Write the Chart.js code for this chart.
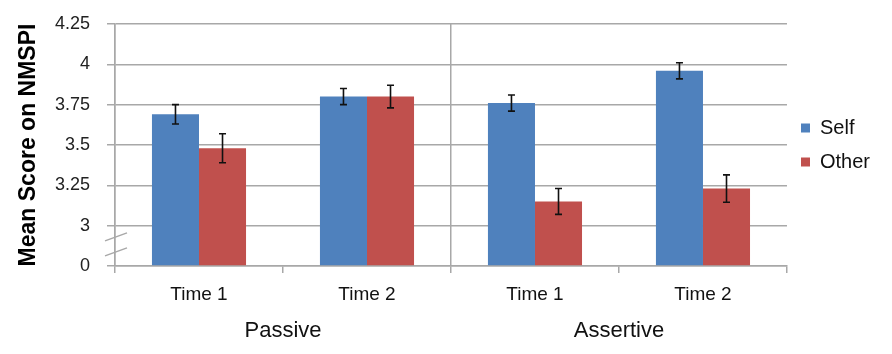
<!doctype html>
<html lang="en">
<head>
<meta charset="utf-8">
<title>NMSPI</title>
<script src="https://cdn.jsdelivr.net/npm/chart.js"></script>
<style>
body{margin:0;background:#fff;}
#wrap{width:892px;height:354px;}
</style>
</head>
<body>
<div id="wrap"><canvas id="myChart" width="892" height="354"></canvas></div>
<script>
// data
const timeLabels = ['Time 1', 'Time 2', 'Time 1', 'Time 2'];
const groupLabels = ['Passive', 'Assertive'];
const selfMeans = [3.69, 3.80, 3.76, 3.96];
const selfErr = [0.06, 0.05, 0.05, 0.05];
const otherMeans = [3.48, 3.80, 3.15, 3.23];
const otherErr = [0.09, 0.07, 0.08, 0.085];
// the "0" tick sits one step under 3 (axis is broken)
const axisBase = 2.75;

const grey = '#a8a8a8';
const font = 'Liberation Sans, Arial, sans-serif';

// error bars, from the y scale
const errorBars = {
	id: 'errorBars',
	afterDatasetsDraw(chart) {
		const ctx = chart.ctx;
		const y = chart.scales.y;
		ctx.save();
		ctx.strokeStyle = '#111';
		ctx.lineWidth = 1.6;
		chart.data.datasets.forEach(function(ds, di) {
			const meta = chart.getDatasetMeta(di);
			meta.data.forEach(function(bar, i) {
				const v = ds.data[i];
				const e = ds.errors[i];
				const top = y.getPixelForValue(v + e);
				const bot = y.getPixelForValue(v - e);
				ctx.beginPath();
				ctx.moveTo(bar.x, top); ctx.lineTo(bar.x, bot);
				ctx.moveTo(bar.x - 3.5, top); ctx.lineTo(bar.x + 3.5, top);
				ctx.moveTo(bar.x - 3.5, bot); ctx.lineTo(bar.x + 3.5, bot);
				ctx.stroke();
			});
		});
		ctx.restore();
	}
};

// the two slashes of the axis break
const axisBreak = {
	id: 'axisBreak',
	afterDraw(chart) {
		const ctx = chart.ctx;
		const y = chart.scales.y;
		const x0 = chart.chartArea.left;
		const mid = (y.getPixelForValue(3) + y.getPixelForValue(axisBase)) / 2;
		ctx.save();
		ctx.strokeStyle = grey;
		ctx.lineWidth = 1.5;
		[-9, 6].forEach(function(d) {
			ctx.beginPath();
			ctx.moveTo(x0 - 10, mid + d + 4);
			ctx.lineTo(x0 + 12, mid + d - 4);
			ctx.stroke();
		});
		ctx.restore();
	}
};

const data = {
	labels: timeLabels,
	datasets: [{
		label: 'Self',
		backgroundColor: '#4f81bd',
		data: selfMeans,
		errors: selfErr
	}, {
		label: 'Other',
		backgroundColor: '#c0504d',
		data: otherMeans,
		errors: otherErr
	}]
};

const config = {
	type: 'bar',
	data: data,
	plugins: [errorBars, axisBreak],
	options: {
		responsive: false,
		animation: false,
		base: axisBase,
		barPercentage: 1,
		categoryPercentage: 0.56,
		layout: {padding: {top: 24, right: 12, left: 0, bottom: 0}},
		plugins: {
			tooltip: {enabled: false},
			legend: {
				position: 'right',
				align: 'center',
				fullSize: false,
				labels: {
					boxWidth: 9, boxHeight: 9, padding: 14,
					color: '#111',
					font: {family: font, size: 20}
				}
			}
		},
		scales: {
			x: {
				offset: true,
				grid: {
					offset: true,
					lineWidth: 1.5,
					tickLength: 7,
					tickColor: grey,
					color: function(c) { return (c.index === 0 || c.index === 2) ? grey : 'rgba(0,0,0,0)'; }
				},
				border: {color: grey, width: 1.5},
				ticks: {color: '#111', padding: 10, font: {family: font, size: 19}},
				afterFit: function(s) { s.height = 40; }
			},
			x2: {
				type: 'category',
				position: 'bottom',
				labels: groupLabels,
				offset: true,
				grid: {display: false, drawTicks: false},
				border: {display: false},
				ticks: {color: '#111', padding: 12, font: {family: font, size: 22}},
				afterFit: function(s) { s.height = 48; }
			},
			y: {
				min: axisBase,
				max: 4.25,
				grid: {color: grey, lineWidth: 1.5, tickLength: 8},
				border: {color: grey, width: 1.5},
				ticks: {
					stepSize: 0.25,
					padding: 17,
					color: '#222',
					font: {family: font, size: 18},
					callback: function(v) { return v === axisBase ? '0' : String(v); }
				},
				title: {
					display: true,
					text: 'Mean Score on NMSPI',
					color: '#000',
					padding: {top: 15, bottom: 0},
					font: {family: font, size: 23, weight: 'bold'}
				},
				afterFit: function(s) { s.width = 115; s.paddingTop = 0; s.paddingBottom = 0; }
			}
		}
	}
};

let myChart = new Chart(document.getElementById('myChart'), config);
</script>
</body>
</html>
